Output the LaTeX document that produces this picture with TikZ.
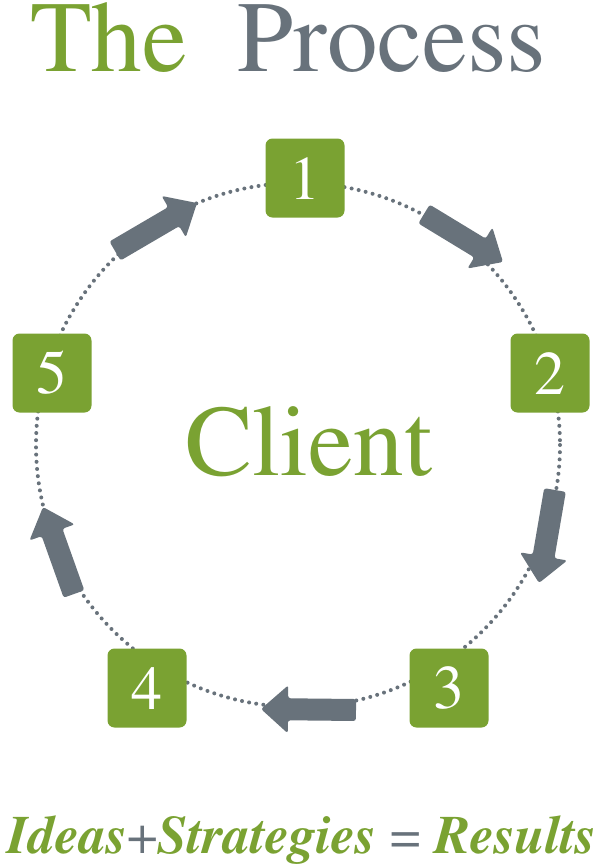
\documentclass[tikz,border=0pt]{standalone}
\usepackage[T1]{fontenc}
\renewcommand\rmdefault{ptm}
\renewcommand\bfdefault{b}
\usetikzlibrary{calc}
\definecolor{pgreen}{RGB}{122,162,50}
\definecolor{pgray}{RGB}{104,114,123}
\newcommand\blkarrow[2]{%
  \path ($(#2)!27pt!(#1)$) coordinate (hb);
  \fill[pgray, rounded corners=2.5pt] ($(#1)!11pt!90:(#2)$) -- ($(hb)!11pt!-90:(#1)$) -- ($(hb)!24pt!-90:(#1)$) -- (#2) -- ($(hb)!24pt!90:(#1)$) -- ($(hb)!11pt!90:(#1)$) -- ($(#1)!11pt!-90:(#2)$) -- cycle;}
\begin{document}
\begin{tikzpicture}[x=1pt,y=-1pt,
  stepbox/.style={fill=pgreen, rounded corners=7pt, minimum width=79pt, minimum height=79pt, inner sep=0pt, text=white, font=\fontsize{62}{62}\selectfont},
  bigtext/.style={anchor=base west, inner sep=0pt, font=\fontsize{101}{101}\selectfont}]
\useasboundingbox (0,0) rectangle (600,865);
\draw[pgray, line width=4pt, line cap=round, dash pattern=on 0pt off 7.2pt] (298,445) circle (262);
\node[stepbox] (b1) at (305,178) {1};
\node[stepbox] (b2) at (550,373) {2};
\node[stepbox] (b3) at (449,688) {3};
\node[stepbox] (b4) at (147,688) {4};
\node[stepbox] (b5) at (52,373) {5};
\coordinate (a1t) at (424,214); \coordinate (a1p) at (503,262);
\coordinate (a2t) at (555,490); \coordinate (a2p) at (539,583);
\coordinate (a3t) at (356,710); \coordinate (a3p) at (261,709);
\coordinate (a4t) at (74,594);  \coordinate (a4p) at (43,507);
\coordinate (a5t) at (115,251); \coordinate (a5p) at (197,203);
\blkarrow{a1t}{a1p}
\blkarrow{a2t}{a2p}
\blkarrow{a3t}{a3p}
\blkarrow{a4t}{a4p}
\blkarrow{a5t}{a5p}
\node[bigtext, text=pgreen] (the) at (30,71) {The};
\node[bigtext, text=pgray] (proc) at (237.5,71) {Process};
\node[bigtext, text=pgreen] (client) at (185,475) {Client};
\node[anchor=base west, inner sep=0pt, text=pgreen, font=\fontsize{54}{54}\selectfont\bfseries\itshape] (eq) at (7,853) {Ideas{\mdseries\upshape\color{pgray}+}Strategies {\mdseries\upshape\color{pgray}=} Results};
\end{tikzpicture}
\end{document}
